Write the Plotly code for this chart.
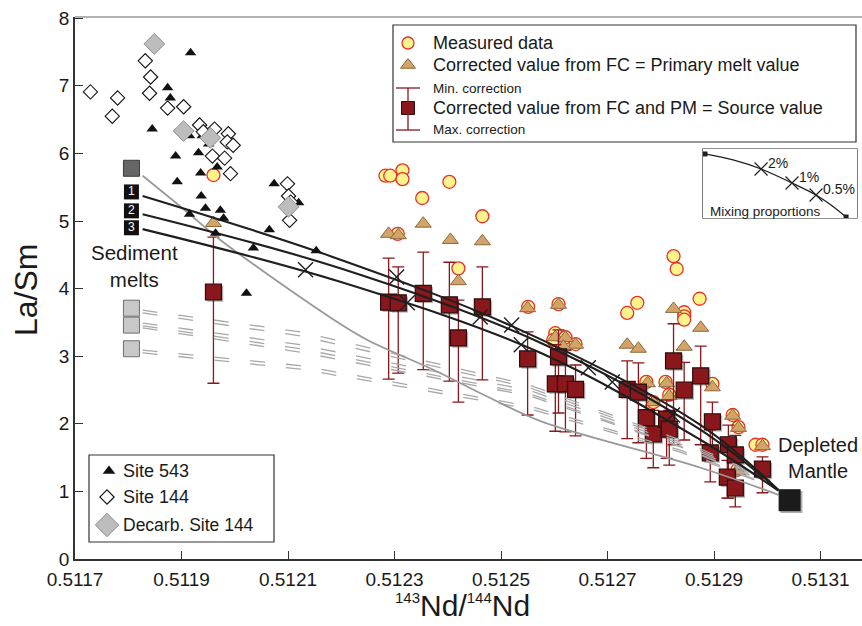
import plotly.graph_objects as go

# ---------------------------------------------------------------- data
# Site 543 sediments
site543_nd = [0.511917, 0.511874, 0.511879, 0.511845, 0.511932, 0.511915, 0.511939, 0.511951,
              0.511889, 0.511932, 0.511967, 0.511936, 0.511892, 0.512074, 0.511937, 0.512120,
              0.511945, 0.511973, 0.511915, 0.511979, 0.511964, 0.512065, 0.512035, 0.512153,
              0.512022]
site543_lasm = [7.49, 6.97, 6.82, 6.36, 6.45, 6.26, 6.26, 6.14, 5.96, 6.01, 5.80, 5.71, 5.58,
                5.55, 5.37, 5.27, 5.19, 5.16, 5.10, 5.04, 4.82, 4.87, 4.60, 4.56, 3.93]

# Site 144 sediments
site144_nd = [0.511729, 0.511780, 0.511770, 0.511832, 0.511842, 0.511840, 0.511874, 0.511904,
              0.511934, 0.511941, 0.511962, 0.511988, 0.511986, 0.511997, 0.511958, 0.511981,
              0.511992, 0.512099, 0.512101, 0.512105, 0.512103]
site144_lasm = [6.91, 6.82, 6.55, 7.37, 7.13, 6.89, 6.67, 6.69, 6.42, 6.32, 6.36, 6.29, 6.17,
                6.12, 5.96, 5.93, 5.70, 5.55, 5.37, 5.28, 5.01]

# Decarbonated Site 144
decarb_nd = [0.511849, 0.511904, 0.511954, 0.512101]
decarb_lasm = [7.62, 6.33, 6.23, 5.21]

# Measured lavas
measured_nd = [0.511960, 0.512283, 0.512292, 0.512315, 0.512315, 0.512403, 0.512352, 0.512465,
               0.512306, 0.512420, 0.512551, 0.512608, 0.512824, 0.512830, 0.512756, 0.512737,
               0.512873, 0.512844, 0.512844, 0.512844, 0.512602, 0.512621, 0.512640, 0.512598,
               0.512773, 0.512809, 0.512816, 0.512786, 0.512897, 0.512935, 0.512946, 0.512978,
               0.512991, 0.512944]
measured_lasm = [5.68, 5.67, 5.67, 5.75, 5.62, 5.58, 5.34, 5.07, 4.81, 4.30, 3.73, 3.77, 4.48,
                 4.29, 3.79, 3.64, 3.85, 3.65, 3.59, 3.54, 3.34, 3.28, 3.18, 3.24, 2.62, 2.62,
                 2.43, 2.32, 2.59, 2.13, 1.95, 1.69, 1.69, 1.32]

# Corrected for fractional crystallisation (primary melts)
primary_nd = [0.511960, 0.512289, 0.512307, 0.512354, 0.512405, 0.512465, 0.512420, 0.512550,
              0.512608, 0.512824, 0.512602, 0.512621, 0.512640, 0.512617, 0.512737, 0.512758,
              0.512844, 0.512875, 0.512775, 0.512811, 0.512816, 0.512786, 0.512897, 0.512935,
              0.512946, 0.512991, 0.512944]
primary_lasm = [4.97, 4.81, 4.79, 4.96, 4.72, 4.70, 4.11, 3.71, 3.76, 3.70, 3.28, 3.27, 3.17,
                3.14, 3.17, 3.11, 3.14, 3.42, 2.60, 2.60, 2.41, 2.32, 2.54, 2.12, 1.94, 1.67,
                1.30]

# Corrected for FC and partial melting (source values) with min / max correction
source_nd = [0.511960, 0.512289, 0.512307, 0.512354, 0.512403, 0.512420, 0.512465, 0.512550,
             0.512608, 0.512602, 0.512621, 0.512640, 0.512737, 0.512758, 0.512773, 0.512786,
             0.512824, 0.512811, 0.512816, 0.512844, 0.512875, 0.512897, 0.512893, 0.512927,
             0.512940, 0.512925, 0.512940, 0.512991]
source_lasm = [3.95, 3.80, 3.79, 3.93, 3.76, 3.27, 3.73, 2.96, 2.99, 2.59, 2.59, 2.51, 2.51,
               2.47, 2.09, 1.85, 2.93, 2.07, 1.92, 2.50, 2.71, 2.03, 1.57, 1.69, 1.54, 1.21,
               1.05, 1.33]
source_min_corr = [4.76, 4.45, 4.32, 4.54, 4.39, 3.83, 4.32, 3.36, 3.39, 3.17, 3.09, 2.87, 2.93,
                   2.90, 2.43, 2.20, 3.48, 2.35, 2.20, 2.91, 3.15, 2.32, 1.91, 1.98, 1.83, 1.46,
                   1.32, 1.51]
source_max_corr = [2.60, 2.66, 2.75, 2.80, 2.63, 2.32, 2.65, 2.13, 2.16, 1.89, 1.88, 1.82, 1.78,
                   1.72, 1.49, 1.35, 1.69, 1.49, 1.39, 1.76, 1.69, 1.46, 1.14, 0.90, 1.02, 0.90,
                   0.77, 0.98]

# End-members
sed_nd = 0.511806
sed_bulk_lasm = [5.78]
sed_melt_lasm = [5.43, 5.15, 4.90]
sed_melt_labels = ["1", "2", "3"]
sed_other_lasm = [3.71, 3.46, 3.11]
dm_nd = [0.513042]
dm_lasm = [0.87]

# Mixing curves sediment melts 1-3 -> depleted mantle
mix1_nd = [0.511827, 0.512180, 0.512536, 0.512875, 0.513021]
mix1_lasm = [5.37, 4.48, 3.39, 1.98, 1.02]
mix2_nd = [0.511827, 0.512198, 0.512574, 0.512875, 0.513021]
mix2_lasm = [5.10, 4.30, 3.20, 1.91, 1.02]
mix3_nd = [0.511827, 0.512198, 0.512574, 0.512875, 0.513021]
mix3_lasm = [4.88, 4.10, 3.05, 1.76, 1.01]
mix_marks_nd = [0.512133, 0.512304, 0.512324, 0.512461, 0.512520, 0.512538, 0.512664, 0.512709,
                0.512822]
mix_marks_lasm = [4.28, 4.17, 3.79, 3.58, 3.46, 3.17, 2.83, 2.62, 2.13]

# Bulk sediment -> depleted mantle
bulk_mix_nd = [0.511827, 0.511911, 0.511973, 0.512180, 0.512249, 0.512373, 0.512475, 0.512574,
               0.512875, 0.513021]
bulk_mix_lasm = [5.67, 5.13, 4.72, 3.57, 3.24, 2.80, 2.40, 2.04, 1.35, 0.95]

# Other sediment melts -> depleted mantle
dash_nd = [0.511827, 0.512123, 0.512555, 0.512837, 0.513006]
dash_lasm = [
    [3.68, 3.36, 2.57, 1.76, 1.17],
    [3.64, 3.30, 2.53, 1.73, 1.15],
    [3.49, 3.17, 2.49, 1.70, 1.14],
    [3.45, 3.11, 2.44, 1.67, 1.12],
    [3.42, 3.06, 2.41, 1.66, 1.11],
    [3.09, 2.86, 2.26, 1.61, 1.09],
    [3.05, 2.81, 2.22, 1.58, 1.08],
]

# Schematic of mixing proportions (inset, unit coordinates)
inset_x = [0.013, 0.195, 0.377, 0.578, 0.734, 0.831, 0.929]
inset_y = [0.928, 0.841, 0.710, 0.507, 0.333, 0.188, 0.014]
inset_marks = ["2%", "1%", "0.5%"]

x_ticks = [0.5117, 0.5119, 0.5121, 0.5123, 0.5125, 0.5127, 0.5129, 0.5131]
y_ticks = [0, 1, 2, 3, 4, 5, 6, 7, 8]

# ---------------------------------------------------------------- style
W, H = 862, 626
ML, MR, MT, MB = 75, 0, 17, 67
PW, PH = W - ML - MR, H - MT - MB
PX_PER_X = 106.5 / 0.0002          # pixels per unit of 143Nd/144Nd
PX_PER_Y = 67.6                    # pixels per unit of La/Sm
X_RANGE = [0.5117, 0.5117 + PW / PX_PER_X]
Y_RANGE = [0.0, PH / PX_PER_Y]

YELLOW = "#fff38c"
RED = "#e8302a"
TAN = "#d4a36a"
TAN_EDGE = "#8b6a3c"
MAROON = "#8a171b"
INK = "#1f1f1f"
NARROW = "Liberation Sans Narrow, Arial Narrow, Liberation Sans, Arial"
SANS = "Liberation Sans, Arial, Helvetica"

fig = go.Figure()


def add(tr):
    tr.update(showlegend=False, hoverinfo="skip")
    fig.add_trace(tr)


# measured data and FC-corrected values
add(go.Scatter(x=measured_nd, y=measured_lasm, mode="markers",
               marker=dict(symbol="circle", size=13, color=YELLOW, line=dict(color=RED, width=1.3))))
add(go.Scatter(x=primary_nd, y=primary_lasm, mode="markers",
               marker=dict(symbol="triangle-up", size=14, color=TAN, line=dict(color=TAN_EDGE, width=1))))

# source values: shadow, then squares with min/max correction bars
sh_dx = 1.8 / PX_PER_X
sh_dy = 1.8 / PX_PER_Y
add(go.Scatter(x=[v + sh_dx for v in source_nd], y=[v - sh_dy for v in source_lasm], mode="markers",
               marker=dict(symbol="square", size=16, color="rgba(120,120,120,0.55)", line=dict(width=0))))
add(go.Scatter(
    x=source_nd, y=source_lasm, mode="markers",
    marker=dict(symbol="square", size=16, color=MAROON, line=dict(color="#2a0c0c", width=1.2)),
    error_y=dict(type="data", symmetric=False,
                 array=[t - v for t, v in zip(source_min_corr, source_lasm)],
                 arrayminus=[v - b for v, b in zip(source_lasm, source_max_corr)],
                 color=MAROON, thickness=1.3, width=6)))

# mixing curves
for ys in dash_lasm:
    add(go.Scatter(x=dash_nd, y=ys, mode="lines", line=dict(color="#a8a8a8", width=1.3, dash="15px,21px")))
add(go.Scatter(x=bulk_mix_nd, y=bulk_mix_lasm, mode="lines", line=dict(color="#999999", width=1.8, shape="spline")))
for xs, ys in [(mix1_nd, mix1_lasm), (mix2_nd, mix2_lasm), (mix3_nd, mix3_lasm)]:
    add(go.Scatter(x=xs, y=ys, mode="lines", line=dict(color=INK, width=2.1, shape="spline")))
add(go.Scatter(x=mix_marks_nd, y=mix_marks_lasm, mode="markers",
               marker=dict(symbol="x-thin-open", size=15, color=INK, line=dict(color=INK, width=1.4))))

# sediments
add(go.Scatter(x=site543_nd, y=site543_lasm, mode="markers",
               marker=dict(symbol="triangle-up", size=10, color="#111111", line=dict(width=0))))
add(go.Scatter(x=site144_nd, y=site144_lasm, mode="markers",
               marker=dict(symbol="diamond", size=11, color="white", line=dict(color="#111111", width=1.1))))
add(go.Scatter(x=decarb_nd, y=decarb_lasm, mode="markers",
               marker=dict(symbol="diamond", size=16, color="#bdbdbd", line=dict(color="#8c8c8c", width=1))))

# end-members
add(go.Scatter(x=[sed_nd], y=sed_bulk_lasm, mode="markers",
               marker=dict(symbol="square", size=16, color="#666666", line=dict(color="#3a3a3a", width=1))))
add(go.Scatter(x=[sed_nd] * len(sed_other_lasm), y=sed_other_lasm, mode="markers",
               marker=dict(symbol="square", size=16, color="#c8c8c8", line=dict(color="#6e6e6e", width=1))))
add(go.Scatter(x=[sed_nd] * len(sed_melt_lasm), y=sed_melt_lasm, mode="markers+text",
               text=sed_melt_labels, textposition="middle center",
               textfont=dict(family=SANS, size=12, color="white"),
               marker=dict(symbol="square", size=15, color="#111111", line=dict(width=0))))
add(go.Scatter(x=[v + sh_dx for v in dm_nd], y=[v - sh_dy for v in dm_lasm], mode="markers",
               marker=dict(symbol="square", size=22, color="rgba(120,120,120,0.6)", line=dict(width=0))))
add(go.Scatter(x=dm_nd, y=dm_lasm, mode="markers",
               marker=dict(symbol="square", size=22, color="#1b1b1b", line=dict(width=0))))

# ---------------------------------------------------------------- legends (pixel overlay axes)
PX = dict(xaxis="x2", yaxis="y2")


def glyph(x, y, **marker):
    add(go.Scatter(x=[x], y=[y], mode="markers", marker=marker, **PX))


glyph(408, 43, symbol="circle", size=12, color=YELLOW, line=dict(color=RED, width=1.3))
glyph(408, 65, symbol="triangle-up", size=13, color=TAN, line=dict(color=TAN_EDGE, width=1))
glyph(408, 108, symbol="square", size=13, color=MAROON, line=dict(color="#2a0c0c", width=1))
glyph(109, 471, symbol="triangle-up", size=11, color="#111111", line=dict(width=0))
glyph(107, 497, symbol="diamond", size=11, color="white", line=dict(color="#111111", width=1.1))
glyph(107, 525, symbol="diamond", size=18, color="#bdbdbd", line=dict(color="#8c8c8c", width=1))

shapes = [
    # upper frame edge
    dict(type="line", xref="paper", yref="paper", x0=0, x1=1, y0=1, y1=1,
         line=dict(color="#9a9a9a", width=1.6)),
    # legend boxes and inset frame
    dict(type="rect", xref="x2", yref="y2", x0=393, x1=856, y0=25, y1=142,
         line=dict(color="#333333", width=1.2), fillcolor="white", layer="below"),
    dict(type="rect", xref="x2", yref="y2", x0=89, x1=274, y0=455, y1=542,
         line=dict(color="#333333", width=1.2), fillcolor="white", layer="below"),
    dict(type="rect", xref="x2", yref="y2", x0=703, x1=857, y0=149, y1=218,
         line=dict(color="#222222", width=1.2), fillcolor="white", layer="below"),
    # min / max correction bar glyph
    dict(type="line", xref="x2", yref="y2", x0=408, x1=408, y0=88, y1=130, line=dict(color=MAROON, width=1.3)),
    dict(type="line", xref="x2", yref="y2", x0=396, x1=420, y0=88, y1=88, line=dict(color=MAROON, width=1.3)),
    dict(type="line", xref="x2", yref="y2", x0=396, x1=420, y0=130, y1=130, line=dict(color=MAROON, width=1.3)),
]

annotations = []


def label(text, x, y, size, ref=("x2", "y2"), xanchor="left", family=SANS, **kw):
    annotations.append(dict(text=text, x=x, y=y, xref=ref[0], yref=ref[1], showarrow=False,
                            xanchor=xanchor, yanchor="middle",
                            font=dict(family=family, size=size, color="#1a1a1a"), **kw))


label("Measured data", 431, 43, 18)
label("Corrected value from FC = Primary melt value", 431, 65, 18)
label("Min. correction", 431, 88, 13.5)
label("Corrected value from FC and PM = Source value", 431, 108, 18)
label("Max. correction", 431, 129, 13.5)
label("Site 543", 121, 471, 18)
label("Site 144", 121, 497, 18)
label("Decarb. Site 144", 121, 525, 17.5)

# inset: mixing proportions
add(go.Scatter(x=inset_x, y=inset_y, mode="lines", line=dict(color=INK, width=1.3, shape="spline"),
               xaxis="x3", yaxis="y3"))
add(go.Scatter(x=[inset_x[0], inset_x[-1]], y=[inset_y[0], inset_y[-1]], mode="markers",
               marker=dict(symbol="square", size=5, color=INK), xaxis="x3", yaxis="y3"))
add(go.Scatter(x=[inset_x[2], inset_x[3], inset_x[4]], y=[inset_y[2], inset_y[3], inset_y[4]],
               mode="markers",
               marker=dict(symbol="x-thin-open", size=13, color=INK, line=dict(color=INK, width=1.2)),
               xaxis="x3", yaxis="y3"))
for txt, (ix, iy) in zip(inset_marks, [(inset_x[2], inset_y[2]), (inset_x[3], inset_y[3]), (inset_x[4], inset_y[4])]):
    label(txt, ix + 0.035, iy + 0.09, 14, ref=("x3", "y3"))
label("Mixing proportions", 0.035, 0.10, 13.5, ref=("x3", "y3"))

# end-member labels
label("Sediment<br>melts", sed_nd + 3 / PX_PER_X, 4.33, 20.5, ref=("x", "y"), xanchor="center")
label("Depleted<br>Mantle", 0.513096, 1.50, 20, ref=("x", "y"), xanchor="center")

# axis titles (paper coordinates, outside the plotting area)
SUP = '<sup><span style="font-size:15px">{}</span></sup>'
annotations.append(dict(text=SUP.format("143") + "Nd/" + SUP.format("144") + "Nd",
                        x=(462 - ML) / PW, y=(H - MB - 605) / PH,
                        xref="paper", yref="paper", showarrow=False, xanchor="center", yanchor="middle",
                        font=dict(family=NARROW, size=30, color="#1a1a1a")))
annotations.append(dict(text="La/Sm", x=(26 - ML) / PW, y=(H - MB - 290) / PH,
                        xref="paper", yref="paper", showarrow=False,
                        textangle=-90, xanchor="center", yanchor="middle",
                        font=dict(family=NARROW, size=32, color="#1a1a1a")))

axis_common = dict(showgrid=False, zeroline=False, showline=True, linecolor="#333333", linewidth=1.6,
                   ticks="inside", ticklen=8, tickwidth=1.2, tickcolor="#333333",
                   tickfont=dict(family=NARROW, size=19, color="#1a1a1a"))

fig.update_layout(
    width=W, height=H,
    margin=dict(l=ML, r=MR, t=MT, b=MB, pad=0),
    paper_bgcolor="white", plot_bgcolor="white",
    showlegend=False,
    xaxis=dict(range=X_RANGE, tickvals=x_ticks, ticktext=[f"{v:.4f}" for v in x_ticks],
               ticklabelstandoff=2, **axis_common),
    yaxis=dict(range=Y_RANGE, tickvals=y_ticks, ticktext=[str(v) for v in y_ticks], **axis_common),
    xaxis2=dict(overlaying="x", range=[ML, W - MR], visible=False, fixedrange=True),
    yaxis2=dict(overlaying="y", range=[H - MB, MT], visible=False, fixedrange=True),
    xaxis3=dict(domain=[(703 - ML) / PW, (857 - ML) / PW], range=[0, 1],
                visible=False, anchor="y3", fixedrange=True),
    yaxis3=dict(domain=[(H - MB - 218) / PH, (H - MB - 149) / PH], range=[0, 1],
                visible=False, anchor="x3", fixedrange=True),
    shapes=shapes,
    annotations=annotations,
)

fig.write_html("out.html")
